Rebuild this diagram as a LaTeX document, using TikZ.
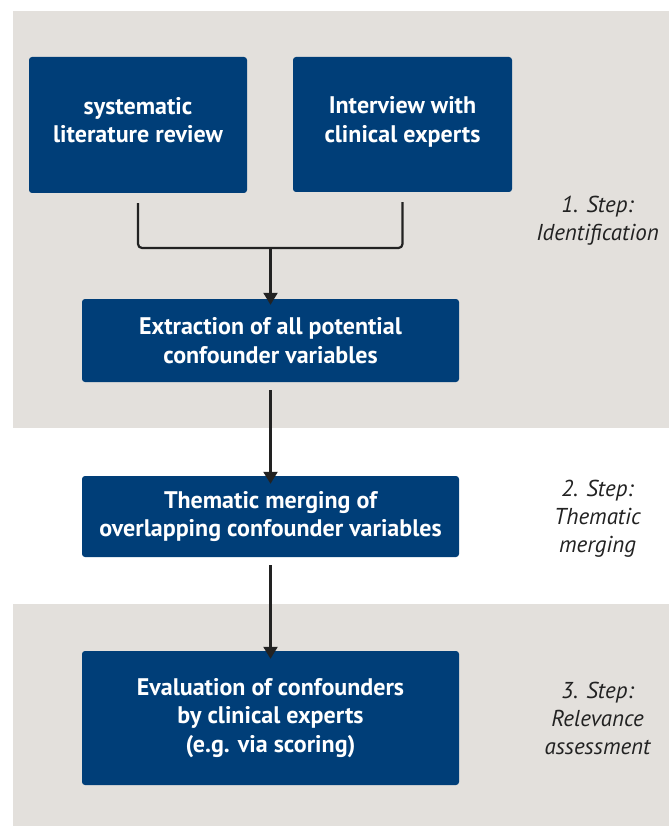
\documentclass[tikz,border=0pt]{standalone}
\usepackage{fontspec}
\setmainfont{PT Sans}
\usetikzlibrary{arrows.meta}
\definecolor{panel}{HTML}{E3E0DC}
\definecolor{boxblue}{HTML}{003E78}
\definecolor{ink}{HTML}{222222}
\tikzset{
  stepbox/.style={fill=boxblue, rounded corners=3pt, text=white, font=\fontsize{24}{28.5}\selectfont\bfseries, align=center, inner sep=0pt},
  steplabel/.style={text=ink, font=\fontsize{23}{28}\selectfont\itshape, align=center},
  conn/.style={draw=ink, line width=2.2pt},
  arr/.style={conn, -{Triangle[length=12pt,width=14pt]}}
}
\begin{document}
\begin{tikzpicture}[x=1pt,y=-1pt]
\useasboundingbox (0,0) rectangle (669,826);
\fill[panel] (13,11) rectangle (669,428);
\fill[panel] (13,604) rectangle (669,826);
\node[stepbox, minimum width=218pt, minimum height=136pt] (A) at (138,125) {systematic\\literature review\\[-18pt]\mbox{}};
\node[stepbox, minimum width=219pt, minimum height=135pt] (B) at (402.5,124.5) {Interview with\\clinical experts\\[-18pt]\mbox{}};
\node[stepbox, minimum width=377pt, minimum height=83pt] (C) at (270.5,340.5) {Extraction of all potential\\confounder variables};
\node[stepbox, minimum width=377pt, minimum height=81pt] (D) at (270.5,516.5) {Thematic merging of\\overlapping confounder variables};
\node[stepbox, minimum width=377pt, minimum height=134pt] (E) at (270.5,718) {Evaluation of confounders\\by clinical experts\\(e.g. via scoring)};
\coordinate (j) at (270.5,248);
\draw[conn, rounded corners=4pt] ([yshift=-10pt]A.south) |- (j) -| ([yshift=-10pt]B.south);
\draw[arr] (j) -- ([yshift=-6pt]C.north);
\draw[arr] ([yshift=-8pt]C.south) -- ([yshift=-8pt]D.north);
\draw[arr] ([yshift=-8pt]D.south) -- ([yshift=-8pt]E.north);
\node[steplabel] (L1) at (597.5,221) {1. Step:\\Identification};
\node[steplabel] (L2) at (597.5,519) {2. Step:\\Thematic\\merging};
\node[steplabel] (L3) at (597.5,718) {3. Step:\\Relevance\\assessment};
\end{tikzpicture}
\end{document}
